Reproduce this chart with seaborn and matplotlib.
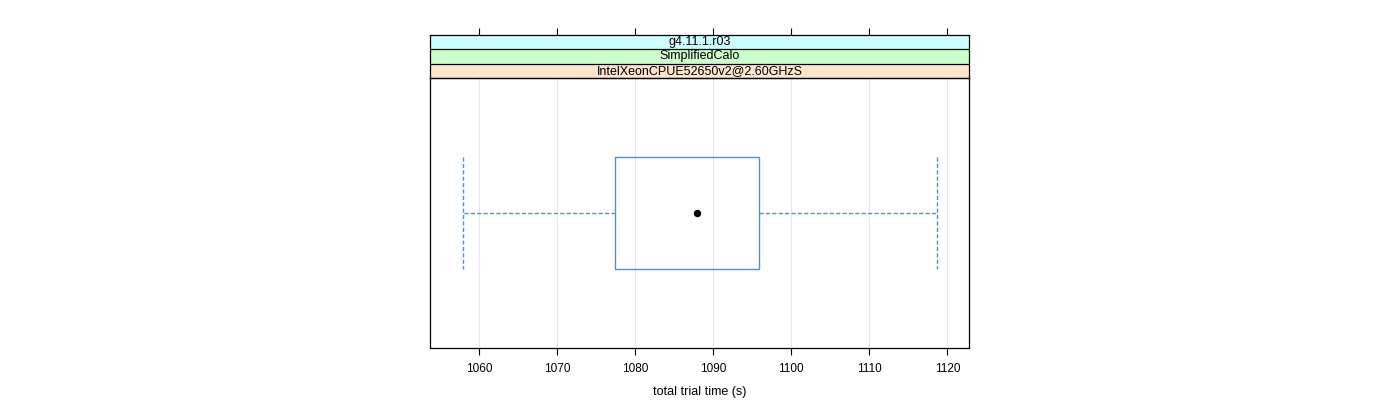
import numpy as np
import pandas as pd
import matplotlib
matplotlib.use("Agg")
import matplotlib.pyplot as plt
import seaborn as sns

# ---- data ----
trial_times = [1057.95, 1077.36, 1087.9, 1095.82, 1118.64]
strip_labels = ["g4.11.1.r03", "SimplifiedCalo", "IntelXeonCPUE52650v2@2.60GHzS"]
strip_colors = ["#ccffff", "#ccffcc", "#ffe5cc"]
x_ticks = [1060, 1070, 1080, 1090, 1100, 1110, 1120]
x_label = "total trial time (s)"

sns.set_theme(style="white")
plt.rcParams["font.family"] = ["Liberation Sans", "DejaVu Sans"]
plt.rcParams["text.color"] = "black"
plt.rcParams["axes.labelcolor"] = "black"
plt.rcParams["xtick.color"] = "black"

W, H = 1400, 400
fig = plt.figure(figsize=(14, 4), dpi=100)
xlim = (1053.68, 1122.78)
blue = "#3399ff"

ax = fig.add_axes([430 / W, (H - 348) / H, 539 / W, 270 / H])
df = pd.DataFrame({"time": trial_times, "grp": ["a"] * len(trial_times)})
dash = (0, (3, 1.6))
sns.boxplot(
    data=df, x="time", y="grp", ax=ax, whis=np.inf, width=0.415, fill=False,
    color=blue, saturation=1, linewidth=1,
    medianprops={"visible": False},
    whiskerprops={"linestyle": dash, "color": blue, "linewidth": 1},
    capprops={"linestyle": dash, "color": blue, "linewidth": 1},
    boxprops={"color": blue, "linewidth": 1},
    capwidths=0.415,
)
ax.plot(np.median(trial_times), 0, "o", color="black", ms=4.3, zorder=5)
ax.set_xlim(*xlim)
ax.set_ylim(0.5, -0.5)
ax.set_yticks([])
ax.set_ylabel("")
ax.set_xticks(x_ticks)
ax.set_xticklabels([str(t) for t in x_ticks])
ax.set_xlabel(x_label, fontsize=9, labelpad=8)
ax.tick_params(axis="x", bottom=True, direction="out", length=5, width=0.8,
               color="black", labelcolor="black", labelsize=8.5, pad=6)
for t in x_ticks:
    ax.axvline(t, color="#e6e6e6", lw=0.8, zorder=0)
for s in ax.spines.values():
    s.set_color("black")
    s.set_linewidth(0.9)

# strips
sax = fig.add_axes([430 / W, (H - 78) / H, 539 / W, 43 / H])
sax.set_xlim(*xlim)
sax.set_ylim(0, 3)
for i, (lab, col) in enumerate(zip(strip_labels, strip_colors)):
    y0 = 2 - i
    sax.axhspan(y0, y0 + 1, color=col, zorder=0)
    sax.text(sum(xlim) / 2, y0 + 0.5, lab, ha="center", va="center",
             fontsize=9, color="black")
    sax.axhline(y0, color="black", lw=0.9)
sax.set_yticks([])
sax.set_xticks(x_ticks)
sax.xaxis.tick_top()
sax.tick_params(axis="x", top=True, bottom=False, labeltop=False, labelbottom=False,
                direction="out", length=5, width=0.8, color="black")
for s in sax.spines.values():
    s.set_color("black")
    s.set_linewidth(0.9)

fig.savefig("out.png", dpi=100)
